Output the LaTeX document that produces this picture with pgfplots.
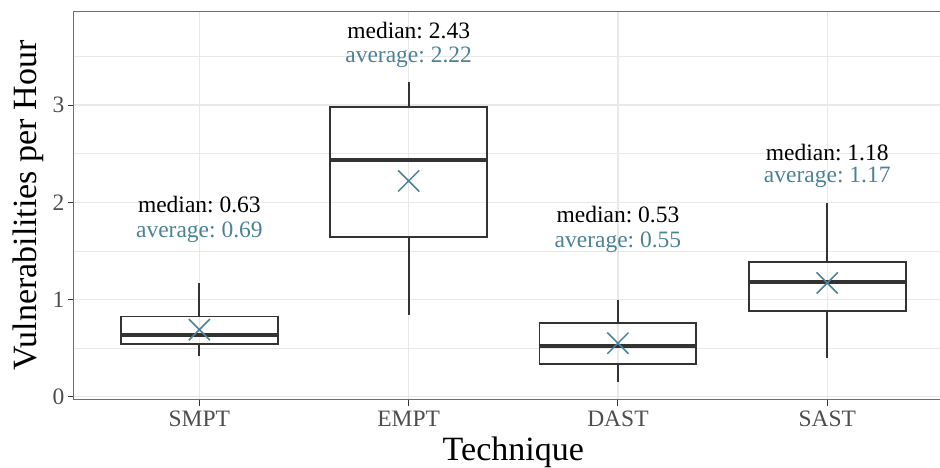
\documentclass[border=0pt]{standalone}
\usepackage{fontspec}
\setmainfont{Liberation Serif}
\usepackage{pgfplots}
\pgfplotsset{compat=1.18}
\usepgfplotslibrary{statistics}
\definecolor{avgc}{RGB}{75,130,152}
\definecolor{gridc}{RGB}{232,232,232}
\definecolor{boxc}{RGB}{51,51,51}
\definecolor{tickc}{RGB}{77,77,77}
\definecolor{framec}{RGB}{110,110,110}
\frenchspacing
\begin{document}
\begin{tikzpicture}
\begin{axis}[
  name=ax,
  scale only axis, width=879pt, height=387.8pt,
  xmin=0.4, xmax=4.6, ymin=-0.03, ymax=3.96,
  xtick={1,2,3,4}, xticklabels={SMPT,EMPT,DAST,SAST},
  ytick={0,1,2,3}, minor ytick={0.5,1.5,2.5,3.5},
  grid=both,
  major grid style={draw=gridc, line width=1.3pt},
  minor grid style={draw=gridc, line width=0.7pt},
  axis line style={draw=framec, line width=1.2pt},
  tick align=outside, tick pos=left, major tick length=6pt, minor tick length=0pt,
  every tick/.style={draw=boxc, line width=1.1pt},
  /pgf/number format/assume math mode=true,
  ticklabel style={font=\fontsize{23.5}{28}\selectfont, text=tickc},
  xticklabel style={yshift=-1.5pt},
  xlabel={Technique}, ylabel={Vulnerabilities per Hour},
  label style={font=\fontsize{34}{40}\selectfont, text=black},
  xlabel style={at={([yshift=-61pt]axis description cs:0.5,0)}, anchor=base, inner sep=0pt},
  ylabel style={at={([xshift=-37pt]axis description cs:0,0.5)}, anchor=base, inner sep=0pt},
  boxplot/draw direction=y,
  clip=false,
]
\pgfplotsset{boxplot/every median/.style={line width=4pt}}
\addplot[boxc, line width=1.9pt, boxplot prepared={draw position=1, lower whisker=0.42, lower quartile=0.545, median=0.63, upper quartile=0.825, upper whisker=1.17, box extend=0.75, whisker extend=0}] coordinates {};
\addplot[boxc, line width=1.9pt, boxplot prepared={draw position=2, lower whisker=0.84, lower quartile=1.646, median=2.435, upper quartile=2.98, upper whisker=3.24, box extend=0.75, whisker extend=0}] coordinates {};
\addplot[boxc, line width=1.9pt, boxplot prepared={draw position=3, lower whisker=0.154, lower quartile=0.333, median=0.525, upper quartile=0.755, upper whisker=0.99, box extend=0.75, whisker extend=0}] coordinates {};
\addplot[boxc, line width=1.9pt, boxplot prepared={draw position=4, lower whisker=0.395, lower quartile=0.88, median=1.183, upper quartile=1.383, upper whisker=1.996, box extend=0.75, whisker extend=0}] coordinates {};
\addplot[only marks, mark=x, mark size=15pt, avgc, mark options={line width=1.5pt}] coordinates {(1,0.69) (2,2.22) (3,0.55) (4,1.17)};
\begin{scope}[every node/.style={anchor=base, inner sep=0pt, font=\fontsize{23.5}{28}\selectfont}]
\node[text=black] at (axis cs:1,1.89) {median: 0.63};
\node[text=avgc] at (axis cs:1,1.633) {average: 0.69};
\node[text=black] at (axis cs:2,3.69) {median: 2.43};
\node[text=avgc] at (axis cs:2,3.44) {average: 2.22};
\node[text=black] at (axis cs:3,1.797) {median: 0.53};
\node[text=avgc] at (axis cs:3,1.54) {average: 0.55};
\node[text=black] at (axis cs:4,2.435) {median: 1.18};
\node[text=avgc] at (axis cs:4,2.20) {average: 1.17};
\end{scope}
\end{axis}
\pgfresetboundingbox
\path[use as bounding box] ([shift={(-73.8pt,-68.4pt)}]ax.south west) rectangle ([shift={(866.2pt,399.6pt)}]ax.south west);
\end{tikzpicture}
\end{document}
